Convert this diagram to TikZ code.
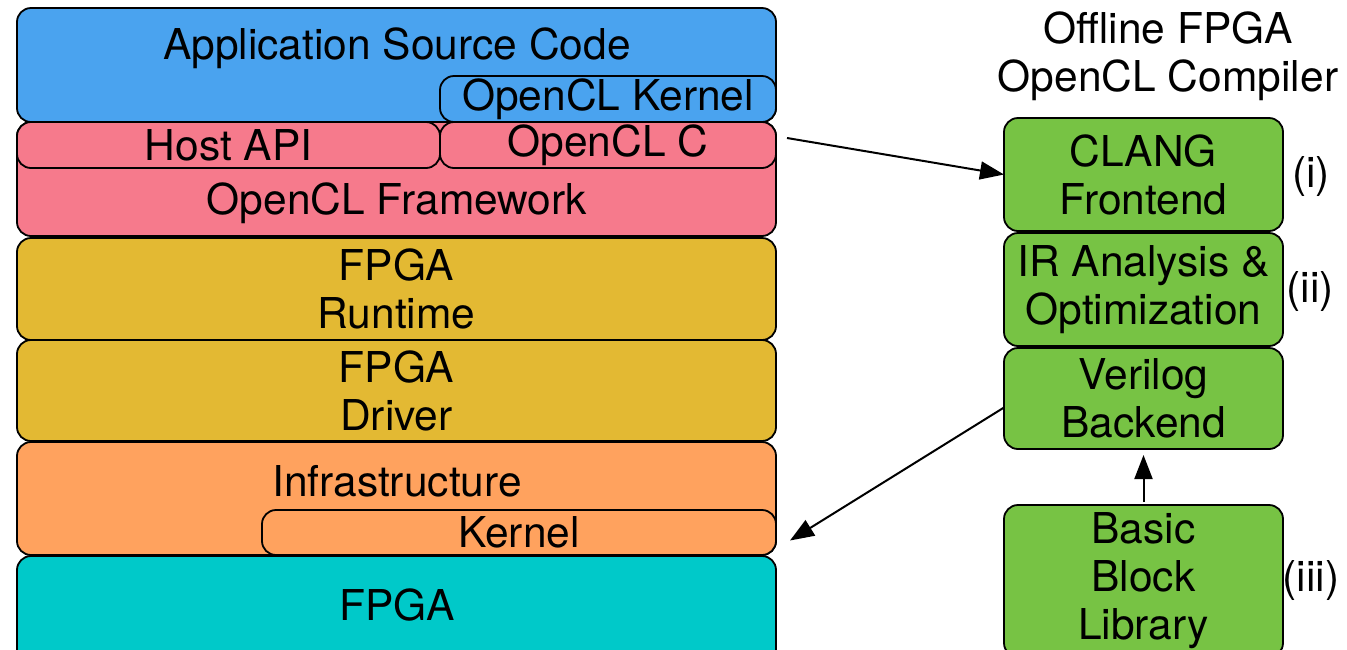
\documentclass[tikz,border=0pt]{standalone}
\usepackage{fontspec}
\setmainfont{TeX Gyre Heros}
\usetikzlibrary{
    arrows.meta,
    positioning,
    calc
}
\definecolor{appblue}{RGB}{74,163,239}
\definecolor{clpink}{RGB}{246,122,140}
\definecolor{fpgagold}{RGB}{227,185,51}
\definecolor{infraorange}{RGB}{255,162,94}
\definecolor{fpgateal}{RGB}{0,201,201}
\definecolor{stagegreen}{RGB}{119,195,68}
\tikzstyle{layer} = [
    rectangle,
    rounded corners=14pt,
    draw=black,
    line width=1.8pt,
    minimum width=759pt,
    inner sep=0pt,
    outer sep=0pt,
    align=center
]
\tikzstyle{sublayer} = [
    layer,
    minimum height=46pt
]
\tikzstyle{stage} = [
    rectangle,
    rounded corners=14pt,
    draw=black,
    line width=1.8pt,
    fill=stagegreen,
    minimum width=279pt,
    inner sep=0pt,
    outer sep=0pt,
    align=center
]
\tikzstyle{arrow} = [
    -{Triangle[length=24pt, width=18pt]},
    line width=2pt
]

\begin{document}
\begin{tikzpicture}[x=1pt, y=-1pt, font=\fontsize{42.5}{48}\selectfont]
    \useasboundingbox (0,0) rectangle (1347,649);

    % Application layer
    \node[layer, fill=appblue, minimum height=114pt, anchor=north west] (app) at (17,8) {};
    \node (apptext) at (397,48) {Application Source Code};
    \node[sublayer, fill=appblue, minimum width=336pt, anchor=south east] (clkernel) at (app.south east) {OpenCL Kernel};

    % OpenCL framework
    \node[layer, fill=clpink, minimum height=114pt, anchor=north west] (framework) at (17,122) {};
    \node[sublayer, fill=clpink, minimum width=423pt, anchor=north west] (hostapi) at (framework.north west) {Host API};
    \node[sublayer, fill=clpink, minimum width=336pt, anchor=north east] (openclc) at (framework.north east) {OpenCL C};
    \node (frametext) at (397,203) {OpenCL Framework};

    % FPGA runtime, driver and infrastructure
    \node[layer, fill=fpgagold, minimum height=102pt, below=2pt of framework] (runtime) {FPGA\\Runtime};
    \node[layer, fill=fpgagold, minimum height=101pt, below=0pt of runtime] (driver) {FPGA\\Driver};
    \node[layer, fill=infraorange, minimum height=113pt, below=1pt of driver] (infra) {};
    \node (infratext) at (397,481) {Infrastructure};
    \node[sublayer, fill=infraorange, minimum width=514pt, minimum height=45pt, anchor=south east] (kernel) at (infra.south east) {Kernel};
    \node[layer, fill=fpgateal, minimum height=114pt, below=1pt of infra] (fpga) {};
    \node (fpgatext) at (397,605) {FPGA};

    % Compiler flow
    \node[align=center] (title) at (1168,56) {Offline FPGA\\OpenCL Compiler};
    \node[stage, minimum height=113pt, anchor=north] (clang) at (1143.5,118) {CLANG\\Frontend};
    \node[stage, minimum height=113pt, below=2pt of clang] (iropt) {IR Analysis \&\\Optimization};
    \node[stage, minimum height=101pt, below=2pt of iropt] (verilog) {Verilog\\Backend};
    \node[stage, minimum height=152pt, below=56pt of verilog] (bblib) {Basic\\Block\\Library};

    \node (tagi) at ($(clang.east)+(28,2)$) {(i)};
    \node (tagii) at ($(iropt.east)+(27,2)$) {(ii)};
    \node (tagiii) at ($(bblib.east)+(28,0)$) {(iii)};

    % Arrows
    \draw[arrow] ([xshift=11pt, yshift=7pt]openclc.east) -- (clang.west);
    \draw[arrow] ([yshift=-9pt]verilog.west) -- ([xshift=14pt, yshift=-8pt]kernel.east);
    \draw[arrow, shorten <=3pt, shorten >=6pt] (bblib) -- (verilog);
\end{tikzpicture}
\end{document}
